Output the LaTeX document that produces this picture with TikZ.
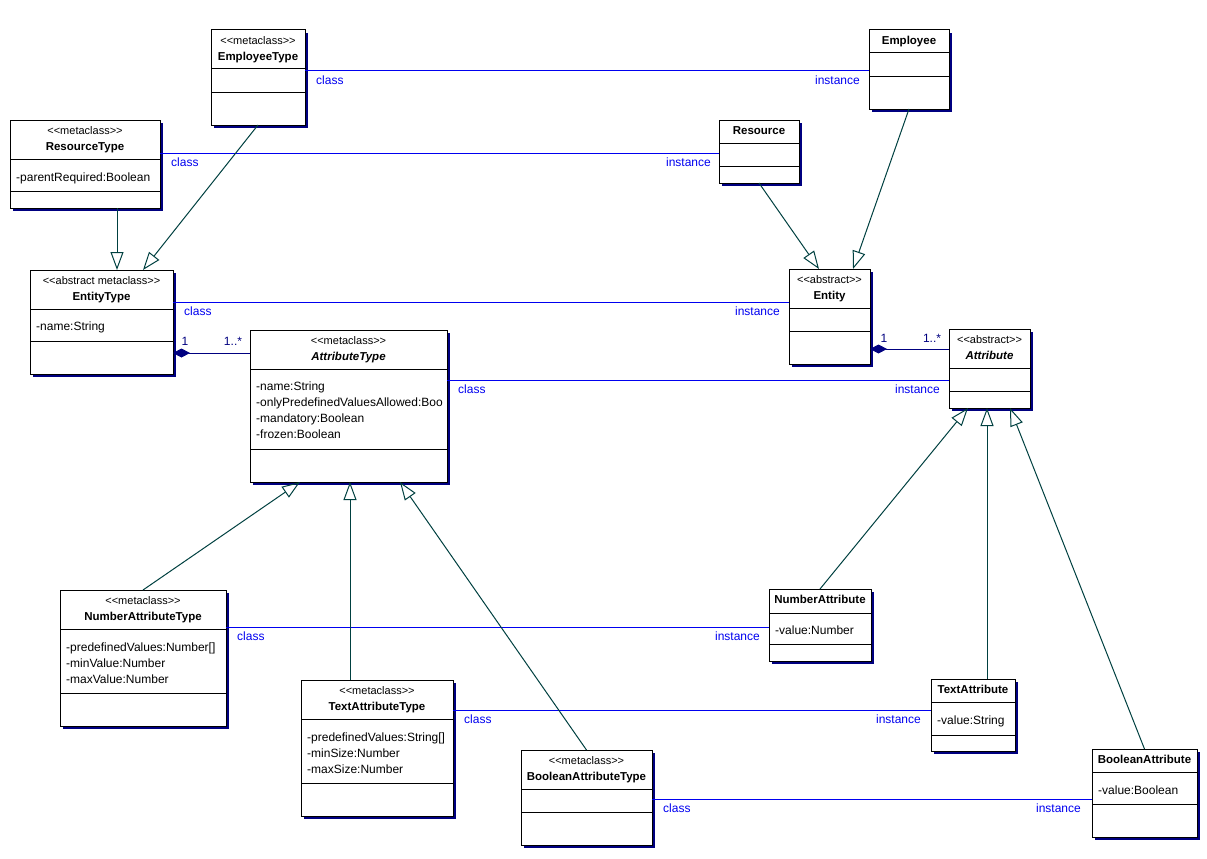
\documentclass[tikz,border=0pt]{standalone}
\usepackage{fontspec}
\setmainfont{Liberation Sans}
\usetikzlibrary{arrows.meta}
\definecolor{shadowc}{RGB}{0,0,128}
\definecolor{genc}{RGB}{0,64,64}
\definecolor{instc}{RGB}{0,0,240}
\definecolor{compc}{RGB}{0,0,128}
\newcommand\umlbox[7]{%
  \fill[shadowc] (#2+3,#3+3) rectangle (#4+3,#5+3);
  \node[umlrect, minimum width={#4-#2}, minimum height={#5-#3}] (#1) at (#2,#3) {};
  \draw[umlsep] (#2,#6) -- (#4,#6);
  \draw[umlsep] (#2,#7) -- (#4,#7);
}
\newcommand\stt[1]{<{}<#1>{}>}
\begin{document}
\begin{tikzpicture}[x=1pt,y=-1pt,
  umlrect/.style={draw=black, fill=white, line width=1pt, inner sep=0pt, outer sep=0pt, anchor=north west},
  umlsep/.style={black, line width=1pt},
  txt/.style={inner sep=0pt, yshift=-1.5pt},
  stereo/.style={txt, font=\fontsize{11}{12}\selectfont, anchor=mid},
  cname/.style={txt, font=\bfseries\fontsize{11.5}{13}\selectfont, anchor=mid},
  aname/.style={txt, font=\bfseries\itshape\fontsize{11.5}{13}\selectfont, anchor=mid},
  attr/.style={txt, font=\fontsize{12}{14}\selectfont, anchor=mid west},
  lblL/.style={txt, text=instc, font=\fontsize{12}{14}\selectfont, anchor=mid west},
  lblR/.style={txt, text=instc, font=\fontsize{12}{14}\selectfont, anchor=mid east},
  mult/.style={txt, text=compc, font=\fontsize{12}{14}\selectfont, anchor=mid},
  inst/.style={instc, line width=1pt},
  gen/.style={genc, line width=1pt, -{Triangle[open, length=18pt, width=13pt]}},
  comp/.style={compc, line width=1pt, {Diamond[length=17pt, width=9pt]}-}
]
\useasboundingbox (0,0) rectangle (1207,859);

% boxes
\umlbox{EmpT}{211}{30}{305}{125}{69}{92}
\umlbox{ResT}{10}{120}{160}{208}{159}{191}
\umlbox{Emp}{869}{30}{949}{109}{53}{76}
\umlbox{Res}{719}{120}{799}{183}{143}{166}
\umlbox{EntT}{30}{270}{173}{374}{309}{341}
\umlbox{AttT}{250}{330}{447}{482}{369}{449}
\umlbox{Ent}{789}{269}{870}{364}{308}{331}
\umlbox{Attr}{949}{329}{1030}{408}{368}{391}
\umlbox{NAT}{60}{590}{226}{726}{629}{693}
\umlbox{TAT}{301}{680}{453}{816}{719}{783}
\umlbox{BAT}{521}{750}{652}{845}{789}{812}
\umlbox{NA}{769}{589}{871}{661}{613}{644}
\umlbox{TA}{931}{679}{1015}{751}{702}{735}
\umlbox{BA}{1092}{749}{1197}{837}{772}{804}

% box texts
\node[stereo] (EmpTs) at (258,40) {\stt{metaclass}};
\node[cname] (EmpTn) at (258,56) {EmployeeType};
\node[stereo] (ResTs) at (85,130) {\stt{metaclass}};
\node[cname] (ResTn) at (85,146) {ResourceType};
\node[attr] (ResTa) at (16,177) {-parentRequired:Boolean};
\node[cname] (Empn) at (909,40) {Employee};
\node[cname] (Resn) at (759,130) {Resource};
\node[stereo] (EntTs) at (101.5,280) {\stt{abstract metaclass}};
\node[cname] (EntTn) at (101.5,296) {EntityType};
\node[attr] (EntTa) at (36,326) {-name:String};
\node[stereo] (AttTs) at (348.5,340) {\stt{metaclass}};
\node[aname] (AttTn) at (348.5,356) {AttributeType};
\node[attr] (AttTa1) at (256,386) {-name:String};
\begin{scope}
  \clip (251,370) rectangle (446,448);
  \node[attr] (AttTa2) at (256,402) {-onlyPredefinedValuesAllowed:Boo};
\end{scope}
\node[attr] (AttTa3) at (256,418) {-mandatory:Boolean};
\node[attr] (AttTa4) at (256,434) {-frozen:Boolean};
\node[stereo] (Ents) at (829.5,279) {\stt{abstract}};
\node[cname] (Entn) at (829.5,295) {Entity};
\node[stereo] (Attrs) at (989.5,339) {\stt{abstract}};
\node[aname] (Attrn) at (989.5,355) {Attribute};
\node[stereo] (NATs) at (143,600) {\stt{metaclass}};
\node[cname] (NATn) at (143,616) {NumberAttributeType};
\node[attr] (NATa1) at (66,647) {-predefinedValues:Number[]};
\node[attr] (NATa2) at (66,663) {-minValue:Number};
\node[attr] (NATa3) at (66,679) {-maxValue:Number};
\node[stereo] (TATs) at (377,690) {\stt{metaclass}};
\node[cname] (TATn) at (377,706) {TextAttributeType};
\node[attr] (TATa1) at (307,737) {-predefinedValues:String[]};
\node[attr] (TATa2) at (307,753) {-minSize:Number};
\node[attr] (TATa3) at (307,769) {-maxSize:Number};
\node[stereo] (BATs) at (586.5,760) {\stt{metaclass}};
\node[cname] (BATn) at (586.5,776) {BooleanAttributeType};
\node[cname] (NAn) at (820,599) {NumberAttribute};
\node[attr] (NAa) at (775,630) {-value:Number};
\node[cname] (TAn) at (973,689) {TextAttribute};
\node[attr] (TAa) at (937,720) {-value:String};
\node[cname] (BAn) at (1144.5,759) {BooleanAttribute};
\node[attr] (BAa) at (1098,790) {-value:Boolean};

% class / instance links
\draw[inst] (EmpT.east |- 0,71) -- (Emp.west |- 0,71);
\node[lblL] (l1c) at (316,80) {class};
\node[lblR] (l1i) at (860,80) {instance};
\draw[inst] (ResT.east |- 0,153) -- (Res.west |- 0,153);
\node[lblL] (l2c) at (171,162) {class};
\node[lblR] (l2i) at (711,162) {instance};
\draw[inst] (EntT.east |- 0,302) -- (Ent.west |- 0,302);
\node[lblL] (l3c) at (184,311) {class};
\node[lblR] (l3i) at (780,311) {instance};
\draw[inst] (AttT.east |- 0,380) -- (Attr.west |- 0,380);
\node[lblL] (l4c) at (458,389) {class};
\node[lblR] (l4i) at (940,389) {instance};
\draw[inst] (NAT.east |- 0,627) -- (NA.west |- 0,627);
\node[lblL] (l5c) at (237,636) {class};
\node[lblR] (l5i) at (760,636) {instance};
\draw[inst] (TAT.east |- 0,710) -- (TA.west |- 0,710);
\node[lblL] (l6c) at (464,719) {class};
\node[lblR] (l6i) at (921,719) {instance};
\draw[inst] (BAT.east |- 0,799) -- (BA.west |- 0,799);
\node[lblL] (l7c) at (663,808) {class};
\node[lblR] (l7i) at (1081,808) {instance};

% compositions
\draw[comp] (EntT.east |- 0,353) -- (AttT.west |- 0,353);
\node[mult] (m1a) at (185,341) {1};
\node[mult] (m1b) at (233,341) {1..*};
\draw[comp] (Ent.east |- 0,349) -- (Attr.west |- 0,349);
\node[mult] (m2a) at (884,338) {1};
\node[mult] (m2b) at (932,338) {1..*};

% generalizations
\draw[gen] (ResT.south -| 117,0) -- (EntT.north -| 117,0);
\draw[gen] (EmpT.south) -- (EntT.north -| 143,0);
\draw[gen] (Res.south) -- (Ent.north -| 819,0);
\draw[gen] (Emp.south) -- (Ent.north -| 853,0);
\draw[gen] (NAT.north) -- (AttT.south -| 300,0);
\draw[gen] (TAT.north -| 350,0) -- (AttT.south -| 350,0);
\draw[gen] (BAT.north) -- (AttT.south -| 400,0);
\draw[gen] (NA.north) -- (Attr.south -| 968,0);
\draw[gen] (TA.north -| 987,0) -- (Attr.south -| 987,0);
\draw[gen] (BA.north) -- (Attr.south -| 1010,0);
\end{tikzpicture}
\end{document}
